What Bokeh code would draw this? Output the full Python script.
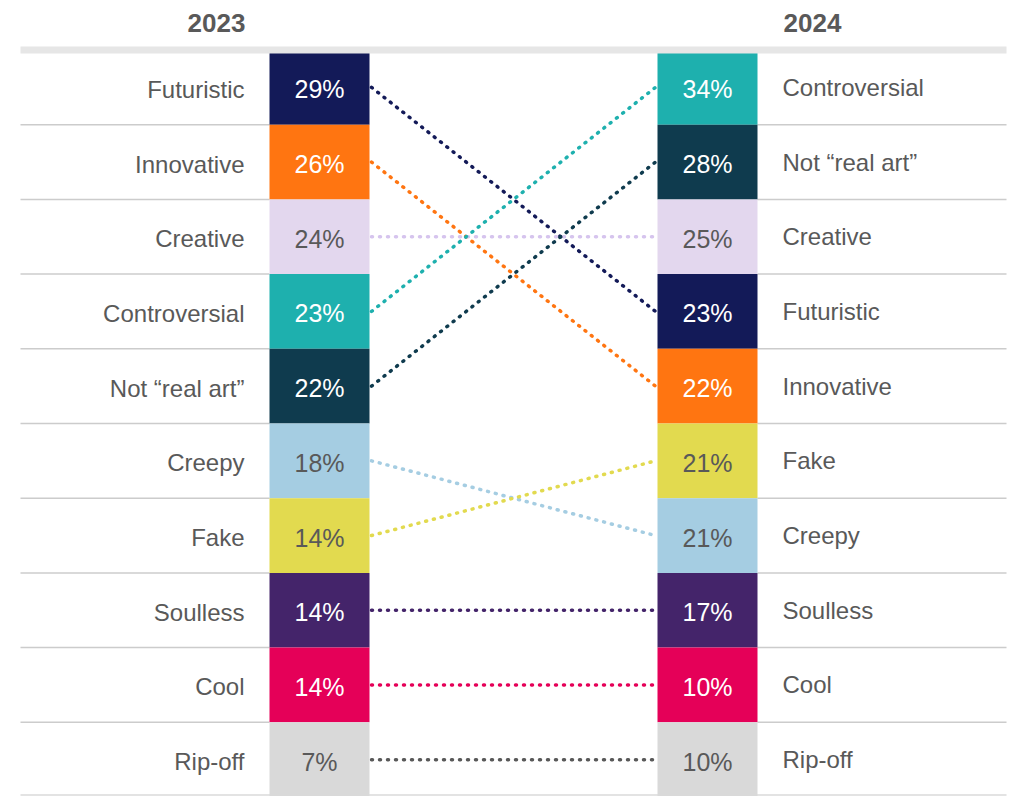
from bokeh.plotting import figure
from bokeh.models import Range1d, ColumnDataSource
from bokeh.embed import file_html
from bokeh.resources import INLINE
from bokeh.core.properties import value

# ---- data ----
years = ["2023", "2024"]
labels_2023 = ["Futuristic", "Innovative", "Creative", "Controversial", "Not \u201creal art\u201d",
               "Creepy", "Fake", "Soulless", "Cool", "Rip-off"]
values_2023 = [29, 26, 24, 23, 22, 18, 14, 14, 14, 7]
labels_2024 = ["Controversial", "Not \u201creal art\u201d", "Creative", "Futuristic", "Innovative",
               "Fake", "Creepy", "Soulless", "Cool", "Rip-off"]
values_2024 = [34, 28, 25, 23, 22, 21, 21, 17, 10, 10]

box_colors = {
    "Futuristic": "#131A58", "Innovative": "#FF7511", "Creative": "#E3D7EE",
    "Controversial": "#1EB0AE", "Not \u201creal art\u201d": "#0F3B4E", "Creepy": "#A5CDE2",
    "Fake": "#E2DA4F", "Soulless": "#44246A", "Cool": "#E50058", "Rip-off": "#D9D9D9",
}
line_colors = dict(box_colors)
line_colors["Creative"] = "#D6C4EE"
line_colors["Rip-off"] = "#595959"
light = {"Creative", "Creepy", "Fake", "Rip-off"}

# ---- geometry (screen px of page) ----
FONT = "Liberation Sans"
GREY = "#595959"
C0, C1 = 319.0, 707.0          # box centres
SX = C1 - C0                   # px per x unit
BOXW = 100.0
TOP, RH = 49.5, 74.7           # top of first row, row height
ORG = 0                        # page offset of the figure

def px2x(px):
    return (px - C0) / SX

def py2y(py):
    return (py - TOP) / RH - 0.5

W, H = 1012, 796
p = figure(width=W, height=H, output_backend="svg", toolbar_location=None,
           x_range=Range1d(px2x(ORG), px2x(ORG + W)),
           y_range=Range1d(py2y(ORG + H), py2y(ORG)),
           min_border=0, outline_line_color=None)
p.axis.visible = False
p.grid.visible = False
p.background_fill_color = "white"
p.border_fill_color = "white"

n = len(labels_2023)
ranks = list(range(n))

# separators
sep_y = [r + 0.5 for r in ranks[:-1]]
p.segment(x0=[px2x(20)] * len(sep_y), x1=[px2x(C0 - BOXW / 2)] * len(sep_y),
          y0=sep_y, y1=sep_y, line_color="#CCCCCC", line_width=1.5)
p.segment(x0=[px2x(C1 + BOXW / 2)] * len(sep_y), x1=[px2x(1006)] * len(sep_y),
          y0=sep_y, y1=sep_y, line_color="#CCCCCC", line_width=1.5)
# bottom line
p.segment(x0=[px2x(20)], x1=[px2x(1006)], y0=[py2y(795)], y1=[py2y(795)],
          line_color="#E3E3E3", line_width=3)

# connectors
rank24 = {lab: i for i, lab in enumerate(labels_2024)}
src_l = ColumnDataSource(dict(
    x0=[0 + (BOXW / 2 + 2) / SX] * n,
    x1=[1 - (BOXW / 2 + 2) / SX] * n,
    y0=ranks,
    y1=[rank24[lab] for lab in labels_2023],
    c=[line_colors[lab] for lab in labels_2023],
))
p.segment(x0="x0", x1="x1", y0="y0", y1="y1", source=src_l, line_color="c",
          line_width=3.5, line_dash="1 7", line_cap="round")

# boxes + texts
for ci, (labs, vals) in enumerate([(labels_2023, values_2023), (labels_2024, values_2024)]):
    src = ColumnDataSource(dict(
        x=[ci] * n, y=ranks,
        fill=[box_colors[l] for l in labs],
        txt=[f"{v}%" for v in vals],
        tc=[GREY if l in light else "white" for l in labs],
        lab=labs,
    ))
    p.rect(x="x", y="y", width=BOXW / SX, height=1.0, source=src,
           fill_color="fill", line_color=None)
    p.text(x="x", y="y", text="txt", source=src, text_color="tc",
           text_font=value(FONT), text_font_size="25px",
           text_align="center", text_baseline="middle", y_offset=2)
    if ci == 0:
        p.text(x="x", y="y", text="lab", source=src, text_color=GREY,
               text_font=value(FONT), text_font_size="24px",
               text_align="right", text_baseline="middle",
               x_offset=-75, y_offset=2)
    else:
        p.text(x="x", y="y", text="lab", source=src, text_color=GREY,
               text_font=value(FONT), text_font_size="24px",
               text_align="left", text_baseline="middle",
               x_offset=75, y_offset=0)

# top bar
p.quad(left=[px2x(20)], right=[px2x(1006)], top=[py2y(46)], bottom=[py2y(53)],
       fill_color="#E6E6E6", line_color=None)

# headers
p.text(x=[0, 1], y=[py2y(22)] * 2, text=years, text_color=GREY,
       text_font=value(FONT), text_font_size="26px", text_font_style="bold",
       text_align="center", text_baseline="middle", x_offset=[-103, 105])

open("out.html", "w").write(file_html(p, INLINE))
